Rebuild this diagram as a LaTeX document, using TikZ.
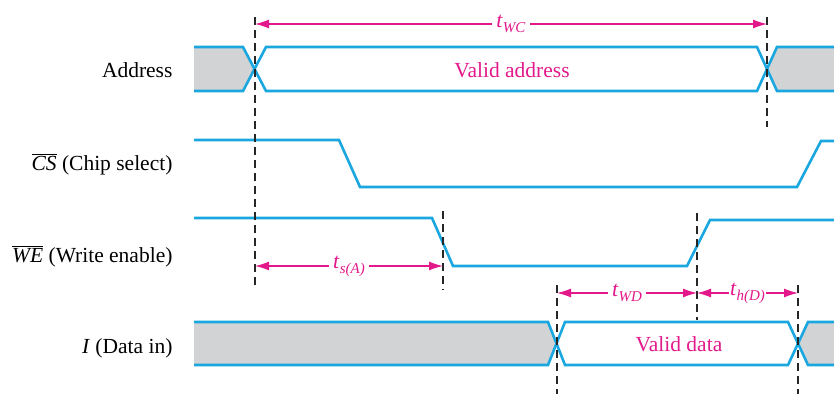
\documentclass[tikz,border=0pt]{standalone}
\usepackage{fontspec}
\setmainfont{Liberation Serif}
\usetikzlibrary{arrows.meta}

\definecolor{sigblue}{HTML}{1AA7DF}
\definecolor{timemag}{HTML}{E3198B}
\definecolor{busgray}{HTML}{D1D3D4}
\newcommand{\tlab}[1]{\textit{t}\raisebox{-5pt}{\fontsize{15}{15}\selectfont\textit{#1}}}

\tikzset{
	signal/.style={sigblue, line width=2.6pt, line join=miter},
	guide/.style={black!85, line width=1.1pt, dash pattern=on 8pt off 5pt},
	span/.style={timemag, line width=1.3pt, {Latex[length=14pt,width=9pt]}-{Latex[length=14pt,width=9pt]}},
	spanlabel/.style={fill=white, text=timemag, inner sep=4pt, font=\fontsize{22}{24}\selectfont},
	signame/.style={anchor=base east, font=\fontsize{21.5}{24}\selectfont},
	busname/.style={anchor=base, text=timemag, font=\fontsize{21.5}{24}\selectfont},
}

\begin{document}
\begin{tikzpicture}[x=1pt, y=-1pt]
	\useasboundingbox (0, 0) rectangle (834, 400);
	% signal names
	\node [signame] (address) at (176, 77) {Address};
	\node [signame] (cs) at (176, 170) {$\overline{\mbox{\textit{CS}}}$ (Chip select)};
	\node [signame] (we) at (176, 262) {$\overline{\mbox{\textit{WE}}}$ (Write enable)};
	\node [signame] (din) at (176, 353) {\textit{I} (Data in)};
	% address bus
	\fill [busgray] (194, 47) -- (243, 47) -- (255, 69) -- (243, 91) -- (194, 91) -- cycle;
	\fill [busgray] (834, 47) -- (777, 47) -- (767, 69) -- (777, 91) -- (834, 91) -- cycle;
	\draw [signal] (194, 47) -- (243, 47) -- (266, 91) -- (757, 91) -- (777, 47) -- (834, 47);
	\draw [signal] (194, 91) -- (243, 91) -- (266, 47) -- (757, 47) -- (777, 91) -- (834, 91);
	\node [busname] (validaddr) at (512, 77) {Valid address};
	% chip select
	\draw [signal] (194, 140) -- (339, 140) -- (360, 187) -- (797, 187) -- (821, 141) -- (834, 141);
	% write enable
	\draw [signal] (194, 218) -- (432, 218) -- (453, 266) -- (687, 266) -- (710, 220) -- (834, 220);
	% data bus
	\fill [busgray] (194, 322) -- (548, 322) -- (557, 343.5) -- (548, 365) -- (194, 365) -- cycle;
	\fill [busgray] (834, 322) -- (808, 322) -- (798, 343.5) -- (808, 365) -- (834, 365) -- cycle;
	\draw [signal] (194, 322) -- (548, 322) -- (565, 365) -- (788, 365) -- (808, 322) -- (834, 322);
	\draw [signal] (194, 365) -- (548, 365) -- (565, 322) -- (788, 322) -- (808, 365) -- (834, 365);
	\node [busname] (validdata) at (679, 351) {Valid data};
	% guide lines
	\coordinate (WCa_top) at (255, 17);
	\coordinate (WCa_bot) at (255, 287);
	\coordinate (WCb_top) at (767, 17);
	\coordinate (WCb_bot) at (767, 127);
	\coordinate (WEf_top) at (443, 211);
	\coordinate (WEf_bot) at (443, 290);
	\coordinate (WEr_top) at (697, 213);
	\coordinate (WEr_bot) at (697, 320);
	\coordinate (Da_top) at (557, 285);
	\coordinate (Da_bot) at (557, 394);
	\coordinate (Db_top) at (798, 285);
	\coordinate (Db_bot) at (798, 394);
	\draw [guide] (WCa_top) -- (WCa_bot);
	\draw [guide] (WCb_top) -- (WCb_bot);
	\draw [guide] (WEf_top) -- (WEf_bot);
	\draw [guide] (WEr_top) -- (WEr_bot);
	\draw [guide] (Da_top) -- (Da_bot);
	\draw [guide] (Db_top) -- (Db_bot);
	% timing spans
	\coordinate (WC_start) at (255, 24);
	\coordinate (WC_end) at (767, 24);
	\draw [span] (WC_start) -- node [spanlabel] (twc) {\tlab{WC}} (WC_end);
	\coordinate (SA_start) at (255, 266);
	\coordinate (SA_end) at (443, 266);
	\draw [span] (SA_start) -- node [spanlabel] (tsa) {\tlab{s(A)}} (SA_end);
	\coordinate (WD_start) at (557, 293);
	\coordinate (WD_end) at (697, 293);
	\draw [span] (WD_start) -- node [spanlabel] (twd) {\tlab{WD}} (WD_end);
	\coordinate (HD_start) at (697, 293);
	\coordinate (HD_end) at (798, 293);
	\draw [span] (HD_start) -- node [spanlabel, inner sep=1pt] (thd) {\tlab{h(D)}} (HD_end);
\end{tikzpicture}
\end{document}
